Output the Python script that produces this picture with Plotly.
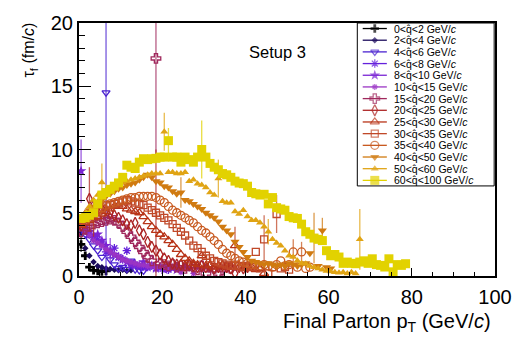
import plotly.graph_objects as go

# ---------------- data ----------------
# q-hat bins (GeV/c) of the 14 series
QHAT_LO = [0, 2, 4, 6, 8, 10, 15, 20, 25, 30, 35, 40, 50, 60]
QHAT_HI = [2, 4, 6, 8, 10, 15, 20, 25, 30, 35, 40, 50, 60, 100]

# final parton pT bins: centres start at 0.5 GeV/c, 1 GeV/c wide
PT_FIRST_CENTER = 0.5
PT_BIN_WIDTH = 1.0

# tau_f (fm/c) per pT bin
TAU_Q0_2 = [2.5, 1.6, 0.7, 0.45, 0.4, 0.35, 0.4]
TAU_Q2_4 = [3.4, 2.2, 1.6, 1.1, 0.8, 0.7, 0.6, 0.55, 0.5, 0.45, 0.5, 0.4, 0.45]
TAU_Q4_6 = [3.8, 3.3, 2.9, 2.4, 2.0, 1.5, 14.5, 1.3, 0.9, 0.6, 0.7, 0.55, 1.2, 0.5, 0.45, 0.4]
TAU_Q6_8 = [4.3, 3.6, 3.3, 3.1, 2.9, 2.5, 1.9, 1.8, 2.2, 1.5,
            1.3, 2.0, 1.0, 0.9, 0.8, 0.75, 0.7, 0.8, 0.6, 0.65,
            0.6, 0.5]
TAU_Q8_10 = [8.3, 3.9, 3.5, 3.2, 3.3, 2.8, 2.4, 2.0, 1.7, 1.5,
             1.3, 1.1, 0.9, 0.9, 0.8, 1.1, 0.7, 0.8, 0.6, 0.7,
             0.5, 0.7, 0.6, 0.5]
TAU_Q10_15 = [4.0, 3.5, 3.2, 2.8, 2.6, 2.4, 2.1, 1.9, 1.7, 1.5,
              1.3, 1.2, 1.1, 1.0, 0.9, 0.85, 0.8, 0.8, 0.7, 0.75,
              0.7, 0.6, 0.7, 0.8, 0.3, 0.65, 0.6, 0.2, 0.7, 0.6]
TAU_Q15_20 = [3.5, 3.7, 3.9, 4.1, 4.2, 4.3, 4.4, 4.5, 4.4, 4.2,
              3.9, 3.5, 3.1, 2.7, 2.3, 1.9, 1.5, 1.2, 17.2, 1.0,
              0.9, 0.8, 0.9, 0.7, 0.8, 0.6, 0.8, 0.7, 0.5, 0.8,
              0.2, 0.7, 0.6, 0.2, 0.5, 0.7, 0.6]
TAU_Q20_25 = [4.0, 4.8, 6.1, 5.6, 5.6, 5.3, 5.2, 5.0, 4.8, 4.6,
              4.4, 4.1, 4.0, 4.2, 3.6, 3.3, 2.7, 2.3, 2.0, 1.7,
              1.4, 1.2, 1.0, 0.9, 0.9, 0.8, 0.9, 0.8, 0.7, 0.8,
              0.7, 0.8, 0.6, 0.7, 0.8, 0.7, 0.6, 0.2, 0.7, 0.6,
              0.7]
TAU_Q25_30 = [4.0, 4.2, 4.4, 4.6, 4.7, 4.9, 5.1, 5.3, 5.5, 5.6,
              5.5, 5.3, 5.2, 5.1, 5.0, 4.7, 4.3, 3.9, 3.6, 3.3,
              3.1, 2.8, 2.5, 2.1, 1.7, 1.4, 1.2, 1.0, 0.9, 1.6,
              0.8, 0.9, 0.7, 0.8, 0.9, 0.7, 0.8, 2.4, 0.7, 0.6,
              0.8, 0.7, 0.5, 0.6, 0.2]
TAU_Q30_35 = [4.2, 4.4, 4.6, 4.9, 5.1, 5.3, 5.5, 5.6, 5.7, 5.8,
              5.9, 6.0, 5.9, 5.8, 5.7, 5.6, 5.4, 5.2, 5.0, 4.8,
              4.6, 4.4, 4.1, 3.8, 3.5, 3.2, 2.8, 2.4, 2.2, 1.9,
              1.6, 1.4, 1.2, 1.1, 1.0, 0.9, 0.8, 0.9, 0.8, 0.7,
              0.8, 0.7, 1.9, 0.6, 2.9, 0.2, 0.7, 4.9, 0.6, 0.7,
              0.5]
TAU_Q35_40 = [4.4, 4.6, 4.8, 5.0, 5.2, 5.4, 5.6, 5.7, 5.8, 5.9,
              6.0, 6.1, 6.2, 6.2, 6.3, 6.3, 6.3, 6.3, 6.2, 6.0,
              5.8, 5.5, 5.2, 5.0, 4.8, 4.6, 4.4, 4.2, 3.9, 3.6,
              3.4, 3.1, 2.8, 2.5, 2.1, 1.8, 1.6, 1.4, 1.2, 1.1,
              1.0, 0.9, 0.9, 0.8, 0.9, 0.8, 0.7, 0.9, 1.2, 0.8,
              0.9, 1.9, 0.7, 1.9, 0.6, 0.7]
TAU_Q40_50 = [4.6, 4.9, 5.2, 5.5, 5.8, 6.0, 6.3, 6.5, 6.7, 6.9,
              7.0, 7.2, 7.3, 7.4, 7.6, 7.8, 8.0, 7.8, 7.5, 7.4,
              7.1, 7.0, 6.7, 6.5, 6.6, 6.0, 5.9, 5.7, 5.5, 5.3,
              5.0, 4.8, 4.6, 4.3, 3.9, 3.6, 3.3, 2.7, 2.3, 1.9,
              1.5, 1.2, 1.1, 1.0, 0.9, 1.0, 0.9, 0.8, 0.9, 0.8,
              1.0, 0.9, 0.8, 0.9, 1.0, 1.8, 3.0, 0.8, 3.6, 0.7,
              0.6]
TAU_Q50_60 = [4.5, 5.0, 5.5, 6.0, 6.4, 7.4, 6.8, 7.0, 7.1, 7.3,
              7.4, 7.5, 7.6, 7.7, 7.8, 7.9, 8.0, 8.1, 8.1, 8.1,
              11.4, 8.2, 8.2, 8.1, 8.1, 8.2, 7.5, 7.6, 7.3, 7.2,
              7.0, 6.6, 6.4, 7.7, 5.9, 5.8, 5.8, 5.1, 4.9, 5.2,
              4.7, 4.4, 4.4, 4.2, 3.9, 3.5, 2.9, 2.6, 2.4, 2.0,
              1.6, 1.5, 1.2, 1.0, 0.97, 0.8, 0.7, 0.6, 0.5, 0.4,
              0.35, 0.3, 0.25, 0.3, 0.2, 0.3, 0.2, 2.9]
TAU_Q60_100 = [4.55, 4.6, 4.8, 5.0, 5.7, 6.4, 6.6, 6.85, 7.1, 7.36,
               7.8, 8.76, 8.6, 8.5, 9.0, 9.27, 9.2, 9.27, 9.3, 9.4,
               9.4, 10.7, 9.4, 9.4, 9.0, 9.4, 9.2, 9.0, 9.4, 10.0,
               9.4, 8.9, 8.6, 8.4, 8.1, 8.0, 7.8, 7.5, 7.35, 7.3,
               7.1, 6.6, 6.5, 6.4, 6.46, 5.7, 6.2, 5.4, 5.3, 5.2,
               4.7, 4.6, 4.55, 4.1, 3.5, 3.3, 3.0, 2.9, 2.8, 2.0,
               1.6, 1.7, 1.5, 1.0, 1.1, 1.0, 0.97, 1.1, 1.2, 1.0,
               1.36, 0.9, 0.84, 0.71, 1.36, 0.33, 0.9, 0.84, 0.97]

# visible (large) error bars: {pT bin index: error}
ERR_Q0_2 = {0: 0.6}
ERR_Q2_4 = {}
ERR_Q4_6 = {6: 14.5}
ERR_Q6_8 = {}
ERR_Q8_10 = {0: 2.5, 7: 1.0}
ERR_Q10_15 = {}
ERR_Q15_20 = {18: 8.0}
ERR_Q20_25 = {2: 2.5, 18: 8.0}
ERR_Q25_30 = {3: 1.5, 37: 1.5}
ERR_Q30_35 = {44: 1.9, 47: 1.5}
ERR_Q35_40 = {51: 1.0, 53: 0.8}
ERR_Q40_50 = {24: 1.2, 56: 2.0, 58: 1.0}
ERR_Q50_60 = {5: 1.5, 20: 1.5, 33: 1.5, 45: 1.0, 67: 2.4}
ERR_Q60_100 = {21: 1.0, 29: 2.3}

SERIES = [TAU_Q0_2, TAU_Q2_4, TAU_Q4_6, TAU_Q6_8, TAU_Q8_10, TAU_Q10_15, TAU_Q15_20,
          TAU_Q20_25, TAU_Q25_30, TAU_Q30_35, TAU_Q35_40, TAU_Q40_50, TAU_Q50_60, TAU_Q60_100]
ERRORS = [ERR_Q0_2, ERR_Q2_4, ERR_Q4_6, ERR_Q6_8, ERR_Q8_10, ERR_Q10_15, ERR_Q15_20,
          ERR_Q20_25, ERR_Q25_30, ERR_Q30_35, ERR_Q35_40, ERR_Q40_50, ERR_Q50_60, ERR_Q60_100]

X_TICKS = [0, 20, 40, 60, 80, 100]
Y_TICKS = [0, 5, 10, 15, 20]

# ---------------- styles ----------------
COLORS = ["#000000", "#1c0c5c", "#4a22d0", "#6420dc", "#7a24d4", "#9a34c4", "#a0285c",
          "#ac2424", "#b83418", "#c04828", "#c85a20", "#d07a10", "#e0a414", "#e2d200"]
SYMBOLS = ["cross", "diamond", "triangle-down-open", "asterisk-open", "star", "asterisk-open",
           "cross-open", "diamond-tall-open", "triangle-up-open", "square-open", "circle-open",
           "triangle-down", "triangle-up", "square"]
SIZES = [7, 5, 7, 7, 8, 5, 8, 8, 8, 7, 8, 8, 7, 9]
FONT = "Liberation Sans, Arial, sans-serif"


def rgba(hex_color, a):
    h = hex_color.lstrip("#")
    return "rgba(%d,%d,%d,%.2f)" % (int(h[0:2], 16), int(h[2:4], 16), int(h[4:6], 16), a)


fig = go.Figure()

for k, tau in enumerate(SERIES):
    pt = [PT_FIRST_CENTER + i * PT_BIN_WIDTH for i in range(len(tau))]
    err = [ERRORS[k].get(i, 0.0) for i in range(len(tau))]
    is_open = SYMBOLS[k].endswith("open")
    fig.add_trace(go.Scatter(
        x=pt, y=tau, mode="markers", showlegend=False,
        marker=dict(symbol=SYMBOLS[k], size=SIZES[k], color=COLORS[k],
                    line=dict(color=COLORS[k], width=1.3 if is_open else 0)),
        error_y=dict(type="data", array=err, visible=True, thickness=1.3, width=0,
                     color=rgba(COLORS[k], 0.75)),
    ))

# ---------------- legend (drawn by hand, ROOT style) ----------------
LEG_X0, LEG_X1, LEG_Y0, LEG_Y1 = 0.669, 0.998, 0.356, 1.0
row_top = 1 - (20.7 - 15) / 261.0
row_step = 12.05 / 261.0
sym_l, sym_c, sym_r = 0.682, 0.711, 0.740
text_x = 0.7515

fig.add_shape(type="rect", xref="paper", yref="paper", x0=LEG_X0, x1=LEG_X1, y0=LEG_Y0, y1=LEG_Y1,
              line=dict(color="black", width=1), fillcolor="white", layer="below")

annotations = []
for k in range(len(SERIES)):
    yy = row_top - k * row_step
    is_open = SYMBOLS[k].endswith("open")
    fig.add_trace(go.Scatter(
        x=[sym_l, sym_c, sym_r], y=[yy, yy, yy], xaxis="x2", yaxis="y2",
        mode="lines+markers", showlegend=False, cliponaxis=False, hoverinfo="skip",
        line=dict(color=COLORS[k], width=1.3),
        marker=dict(symbol=SYMBOLS[k], size=[0, SIZES[k], 0], color=COLORS[k],
                    line=dict(color=COLORS[k], width=1.3 if is_open else 0)),
    ))
    annotations.append(dict(
        xref="paper", yref="paper", x=text_x, y=yy, xanchor="left", yanchor="middle",
        text="%d&lt;q\u0302&lt;%d GeV/<i>c</i>" % (QHAT_LO[k], QHAT_HI[k]),
        showarrow=False, font=dict(family=FONT, size=10.5, color="black")))

annotations.append(dict(xref="paper", yref="paper", x=0.476, y=0.885, text="Setup 3",
                        showarrow=False, xanchor="center", yanchor="middle",
                        font=dict(family=FONT, size=16.5, color="black")))
annotations.append(dict(xref="paper", yref="paper", x=0.995, y=-0.125,
                        text="Final Parton p<sub>T</sub> (GeV/<i>c</i>)",
                        showarrow=False, xanchor="right", yanchor="top",
                        font=dict(family=FONT, size=20, color="black")))
annotations.append(dict(xref="paper", yref="paper", x=-0.118, y=0.895,
                        text="\u03c4<sub>f</sub> (fm/<i>c</i>)", textangle=-90,
                        showarrow=False, xanchor="center", yanchor="middle",
                        font=dict(family=FONT, size=16, color="black")))

fig.update_layout(
    width=527, height=338,
    margin=dict(l=79, r=32, t=15, b=62),
    paper_bgcolor="white", plot_bgcolor="white",
    font=dict(family=FONT, color="black"),
    xaxis=dict(range=[0, 100], tickvals=X_TICKS, ticks="inside", ticklen=8, tickwidth=1,
               tickcolor="black", showline=True, linewidth=2, linecolor="black", mirror=True,
               showgrid=False, zeroline=False, tickfont=dict(family=FONT, size=20),
               ticklabelstandoff=2,
               minor=dict(dtick=5, ticks="inside", ticklen=4, tickcolor="black", showgrid=False)),
    yaxis=dict(range=[0, 20], tickvals=Y_TICKS, ticks="inside", ticklen=12, tickwidth=1,
               tickcolor="black", showline=True, linewidth=2, linecolor="black", mirror=True,
               showgrid=False, zeroline=False, tickfont=dict(family=FONT, size=20),
               minor=dict(dtick=1, ticks="inside", ticklen=6, tickcolor="black", showgrid=False)),
    xaxis2=dict(overlaying="x", anchor="y2", range=[0, 1], visible=False),
    yaxis2=dict(overlaying="y", anchor="x2", range=[0, 1], visible=False),
    annotations=annotations,
)

fig.write_html("out.html")
